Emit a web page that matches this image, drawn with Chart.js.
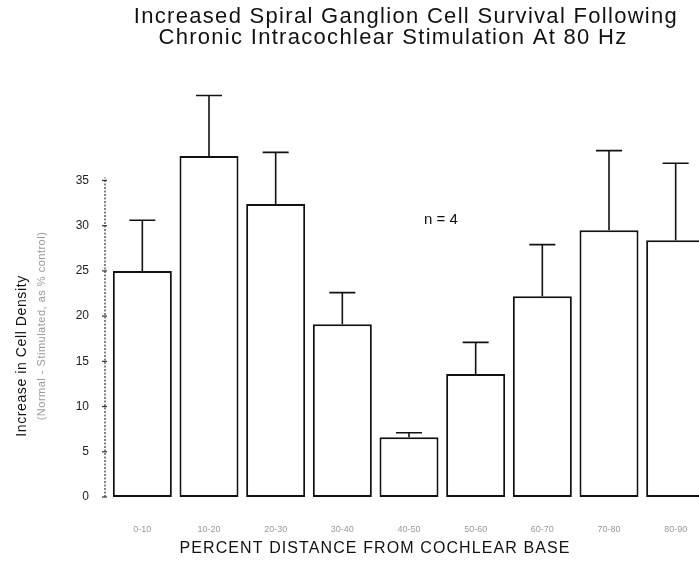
<!DOCTYPE html>
<html lang="en">
<head>
    <meta charset="UTF-8">
    <title>Spiral Ganglion Cell Survival</title>
    <script src="https://cdn.jsdelivr.net/npm/chart.js"></script>
    <style>
        body {
            margin: 0;
            padding: 0;
            background: #fff;
            overflow: hidden;
        }
        #wrap {
            width: 712px;
            height: 561px;
        }
    </style>
</head>
<body>
<div id="wrap">
    <canvas id="survivalChart" width="712" height="561"></canvas>
</div>

<script>
    // data
    const distances = ['0-10', '10-20', '20-30', '30-40', '40-50', '50-60', '60-70', '70-80', '80-90'];
    const meanIncrease = [25.0, 37.7, 32.4, 19.1, 6.6, 13.6, 22.2, 29.5, 28.4];
    const errorUp = [5.6, 6.7, 5.7, 3.5, 0.5, 3.5, 5.7, 8.8, 8.5];
    const yTickMax = 35;

    const titleLines = ['Increased Spiral Ganglion Cell Survival Following', 'Chronic Intracochlear Stimulation At 80 Hz'];
    const yTitle = 'Increase in Cell Density';
    const ySubTitle = '(Normal - Stimulated, as % control)';
    const xTitle = 'PERCENT DISTANCE FROM COCHLEAR BASE';
    const noteText = 'n = 4';

    const FONT = '"Liberation Sans", Arial, sans-serif';

    // dashed y axis line that stops at the last labelled tick
    const axisPlugin = {
        id: 'axisLine',
        afterDraw(chart) {
            const ctx = chart.ctx;
            const y = chart.scales.y;
            const x0 = chart.chartArea.left - 4;
            ctx.save();
            ctx.strokeStyle = '#333';
            ctx.lineWidth = 1.2;
            ctx.setLineDash([2, 1.5]);
            ctx.beginPath();
            ctx.moveTo(x0, y.getPixelForValue(0));
            ctx.lineTo(x0, y.getPixelForValue(yTickMax) - 3);
            ctx.stroke();
            ctx.setLineDash([]);
            for (let v = 0; v <= yTickMax; v += 5) {
                const py = y.getPixelForValue(v);
                ctx.beginPath();
                ctx.moveTo(x0 - 3, py);
                ctx.lineTo(x0 + 2, py);
                ctx.stroke();
            }
            ctx.restore();
        }
    };

    // error bars, upper half only
    const errorBarPlugin = {
        id: 'errorBars',
        afterDatasetsDraw(chart) {
            const ctx = chart.ctx;
            const y = chart.scales.y;
            const meta = chart.getDatasetMeta(0);
            ctx.save();
            ctx.strokeStyle = '#111';
            ctx.lineWidth = 1.6;
            meta.data.forEach((bar, i) => {
                const top = y.getPixelForValue(meanIncrease[i] + errorUp[i]);
                ctx.beginPath();
                ctx.moveTo(bar.x, bar.y);
                ctx.lineTo(bar.x, top);
                ctx.moveTo(bar.x - 13, top);
                ctx.lineTo(bar.x + 13, top);
                ctx.stroke();
            });
            ctx.restore();
        }
    };

    // titles and annotations
    const textPlugin = {
        id: 'texts',
        afterDraw(chart) {
            const ctx = chart.ctx;
            const y = chart.scales.y;
            ctx.save();
            ctx.fillStyle = '#111';
            ctx.textAlign = 'center';
            ctx.textBaseline = 'middle';

            ctx.font = '22px ' + FONT;
            ctx.letterSpacing = '1.3px';
            ctx.fillText(titleLines[0], 406, 17);
            ctx.fillText(titleLines[1], 393, 38);

            ctx.font = '16px ' + FONT;
            ctx.letterSpacing = '1.1px';
            ctx.fillText(xTitle, 375, 549);

            ctx.letterSpacing = '0px';
            ctx.font = '15px ' + FONT;
            ctx.fillText(noteText, 441, y.getPixelForValue(30.6));

            ctx.save();
            ctx.translate(22, 356);
            ctx.rotate(-Math.PI / 2);
            ctx.font = '14px ' + FONT;
            ctx.letterSpacing = '0.6px';
            ctx.fillText(yTitle, 0, 0);
            ctx.restore();

            ctx.save();
            ctx.translate(42, 326);
            ctx.rotate(-Math.PI / 2);
            ctx.fillStyle = '#999';
            ctx.font = '11px ' + FONT;
            ctx.letterSpacing = '0.5px';
            ctx.fillText(ySubTitle, 0, 0);
            ctx.restore();

            ctx.restore();
        }
    };

    new Chart(document.getElementById('survivalChart'), {
        type: 'bar',
        data: {
            labels: distances,
            datasets: [{
                data: meanIncrease,
                backgroundColor: '#fff',
                borderColor: '#111',
                borderWidth: 2,
                borderSkipped: false,
                categoryPercentage: 1,
                barPercentage: 0.885
            }]
        },
        options: {
            responsive: false,
            animation: false,
            layout: {
                padding: { top: 90, right: 3, bottom: 0, left: 0 }
            },
            plugins: {
                legend: { display: false },
                tooltip: { enabled: false }
            },
            scales: {
                x: {
                    grid: { display: false },
                    border: { display: false },
                    ticks: {
                        color: '#999',
                        font: { family: FONT, size: 9 },
                        padding: 19,
                        maxRotation: 0
                    },
                    afterFit(scale) { scale.height = 64; }
                },
                y: {
                    min: 0,
                    max: 45,
                    grid: { display: false },
                    border: { display: false },
                    ticks: {
                        stepSize: 5,
                        color: '#222',
                        padding: 12,
                        font: { family: FONT, size: 12 },
                        callback: v => (v <= yTickMax ? v : '')
                    },
                    afterFit(scale) { scale.width = 109; }
                }
            }
        },
        plugins: [axisPlugin, errorBarPlugin, textPlugin]
    });
</script>
</body>
</html>
